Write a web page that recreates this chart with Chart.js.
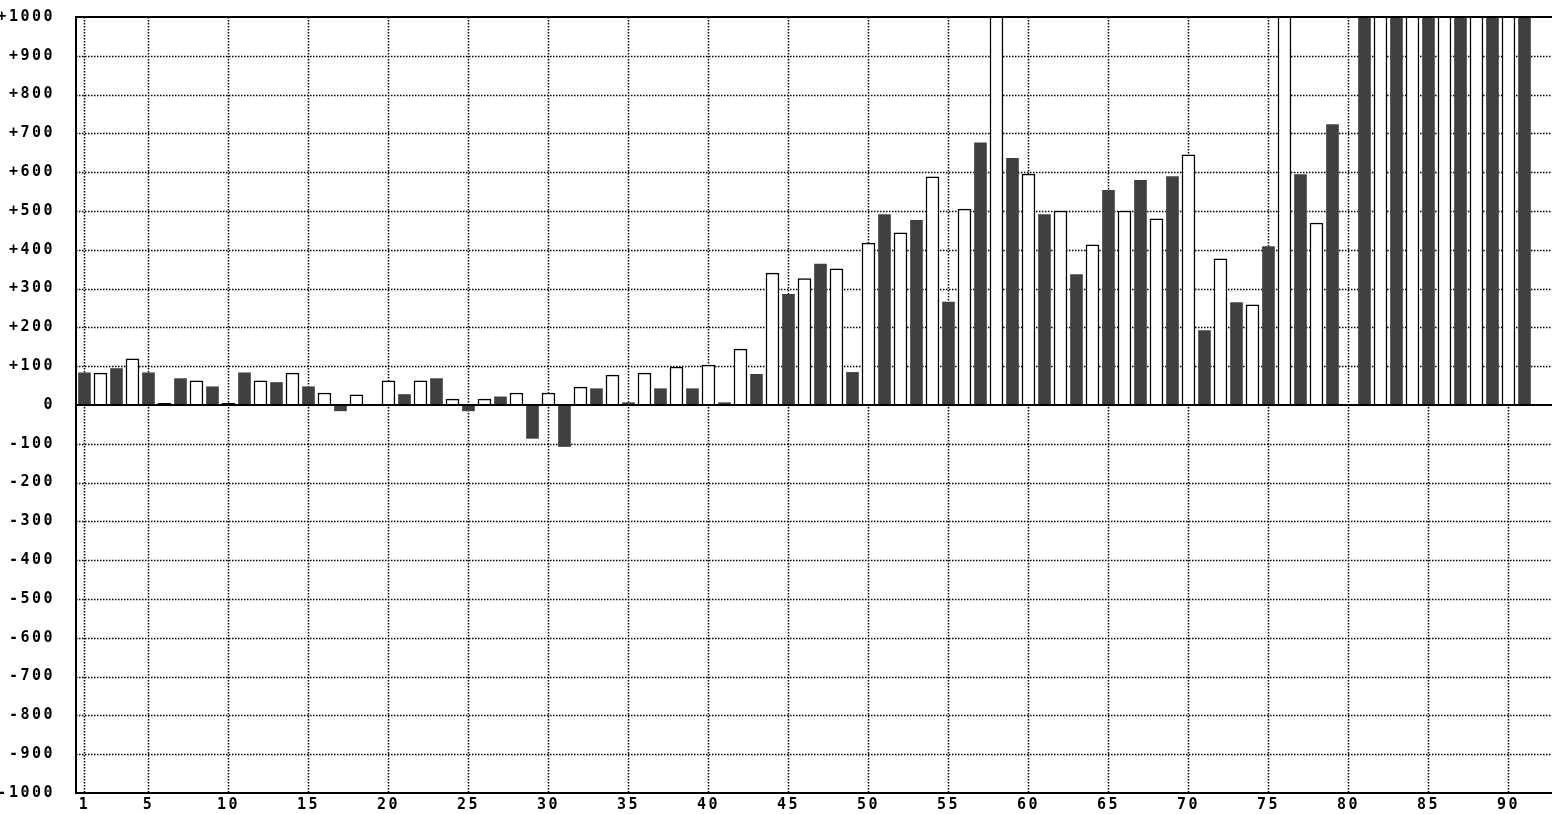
<!DOCTYPE html>
<html>
<head>
<meta charset="utf-8">
<script src="https://cdn.jsdelivr.net/npm/chart.js@4.4.0/dist/chart.umd.min.js"></script>
<style>
html, body { margin: 0; padding: 0; background: #fff; overflow: hidden; }
#barChart { display: block; }
</style>
</head>
<body>
<canvas id="barChart" width="1552" height="814"></canvas>
<script>
// bar numbers along the bottom
const barNumbers = [1, 2, 3, 4, 5, 6, 7, 8, 9, 10, 11, 12, 13, 14, 15, 16, 17, 18, 19, 20,
  21, 22, 23, 24, 25, 26, 27, 28, 29, 30, 31, 32, 33, 34, 35, 36, 37, 38, 39, 40,
  41, 42, 43, 44, 45, 46, 47, 48, 49, 50, 51, 52, 53, 54, 55, 56, 57, 58, 59, 60,
  61, 62, 63, 64, 65, 66, 67, 68, 69, 70, 71, 72, 73, 74, 75, 76, 77, 78, 79, 80,
  81, 82, 83, 84, 85, 86, 87, 88, 89, 90, 91];

// values per bar (odd = dark, even = white), > 1000 runs off the top
const barValues = [83, 82, 94, 119, 83, 4, 68, 62, 47, 4,
  83, 62, 58, 82, 47, 31, -15, 26, null, 62,
  27, 62, 68, 15, -15, 15, 21, 31, -86, 31,
  -107, 46, 42, 77, 6, 82, 42, 98, 42, 103,
  6, 144, 79, 340, 285, 326, 363, 351, 84, 417,
  491, 444, 476, 588, 265, 505, 676, 1200, 636, 595,
  491, 500, 336, 413, 553, 500, 579, 480, 589, 645,
  192, 377, 264, 258, 408, 1200, 594, 469, 723, null,
  1200, 1200, 1200, 1200, 1200, 1200, 1200, 1200, 1200, 1200, 1200];

const xTickValues = [1, 5, 10, 15, 20, 25, 30, 35, 40, 45, 50, 55, 60, 65, 70, 75, 80, 85, 90];
const yTickValues = [-1000, -900, -800, -700, -600, -500, -400, -300, -200, -100, 0,
  100, 200, 300, 400, 500, 600, 700, 800, 900, 1000];

document.addEventListener('DOMContentLoaded', function() {

// odd bars dark, even bars white
const darkValues = barValues.map((v, i) => i % 2 === 0 ? v : null);
const whiteValues = barValues.map((v, i) => i % 2 === 1 ? v : null);

// dotted grid + black frame
const frameGrid = {
  id: 'frameGrid',
  beforeDraw(chart) {
    chart.ctx.letterSpacing = '2.5px';
  },
  beforeDatasetsDraw(chart) {
    const ctx = chart.ctx;
    const a = chart.chartArea;
    const x = chart.scales.x;
    const y = chart.scales.y;
    ctx.save();
    ctx.strokeStyle = '#000';
    ctx.lineWidth = 1.5;
    ctx.setLineDash([1.5, 1.5]);
    ctx.beginPath();
    yTickValues.forEach(v => {
      if (v === 0 || Math.abs(v) === 1000) return;
      const py = Math.round(y.getPixelForValue(v)) + 0.5;
      ctx.moveTo(a.left, py);
      ctx.lineTo(a.right, py);
    });
    xTickValues.forEach(v => {
      const px = Math.round(x.getPixelForValue(v)) + 0.5;
      ctx.moveTo(px, a.top);
      ctx.lineTo(px, a.bottom);
    });
    ctx.stroke();
    ctx.restore();
  },
  afterDatasetsDraw(chart) {
    const ctx = chart.ctx;
    const a = chart.chartArea;
    const zy = chart.scales.y.getPixelForValue(0);
    ctx.save();
    ctx.strokeStyle = '#000';
    ctx.lineWidth = 2;
    ctx.setLineDash([]);
    ctx.beginPath();
    ctx.moveTo(a.right, a.top);
    ctx.lineTo(a.left, a.top);
    ctx.lineTo(a.left, a.bottom);
    ctx.lineTo(a.right, a.bottom);
    ctx.moveTo(a.left, zy);
    ctx.lineTo(a.right, zy);
    ctx.stroke();
    ctx.restore();
  }
};

const ctx1 = document.getElementById('barChart');
const barChart = new Chart(ctx1, {
  type: 'bar',
  data: {
    labels: barNumbers,
    datasets: [{
      label: 'odd',
      data: darkValues,
      backgroundColor: '#404040',
      borderWidth: 0,
      barThickness: 12,
      grouped: false
    },
    {
      label: 'even',
      data: whiteValues,
      backgroundColor: '#fff',
      borderColor: '#000',
      borderWidth: 1.5,
      barThickness: 13,
      grouped: false
    }]
  },
  options: {
    responsive: false,
    animation: false,
    layout: {
      padding: { top: 17, left: 0, right: 0, bottom: 0 }
    },
    plugins: {
      legend: { display: false },
      tooltip: { enabled: false }
    },
    scales: {
      x: {
        type: 'linear',
        offset: false,
        min: 0.47,
        max: 92.72,
        afterBuildTicks: s => { s.ticks = xTickValues.map(v => ({ value: v })); },
        afterFit: s => { s.height = 21; s.paddingLeft = 0; s.paddingRight = 0; },
        grid: { display: false },
        border: { display: false },
        ticks: {
          autoSkip: false,
          maxRotation: 0,
          padding: -5,
          color: '#000',
          font: { family: 'DejaVu Sans Mono', size: 15, weight: 'bold' },
          callback: v => String(v)
        }
      },
      y: {
        min: -1000,
        max: 1000,
        afterBuildTicks: s => { s.ticks = yTickValues.map(v => ({ value: v })); },
        afterFit: s => { s.width = 76; s.paddingTop = 0; s.paddingBottom = 0; },
        grid: { display: false },
        border: { display: false },
        ticks: {
          padding: 13,
          color: '#000',
          font: { family: 'DejaVu Sans Mono', size: 15, weight: 'bold' },
          callback: v => v > 0 ? '+' + v : String(v)
        }
      }
    }
  },
  plugins: [frameGrid]
});

});
</script>
</body>
</html>
